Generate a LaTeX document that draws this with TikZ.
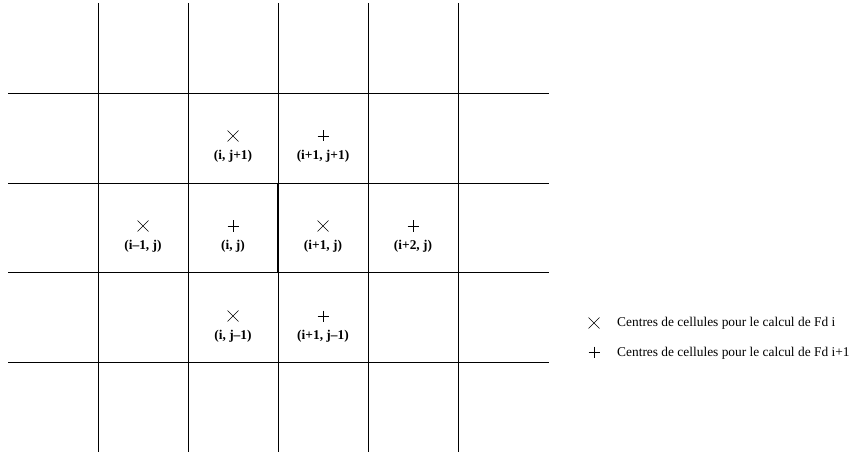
\documentclass[tikz,border=0pt]{standalone}
\usepackage{fontspec}
\setmainfont{Liberation Serif}
\begin{document}
\begin{tikzpicture}[x=1pt,y=-1pt,
  grid/.style={line width=0.9pt,black},
  lbl/.style={font=\fontsize{13.4}{14}\selectfont\bfseries,inner sep=0pt},
  legtxt/.style={font=\fontsize{13.4}{14}\selectfont,inner sep=0pt,anchor=west},
  mk/.style={line width=0.6pt}]
\useasboundingbox (0,0) rectangle (850,454);
% grid
\foreach \x in {98,188,278,368,458} \draw[grid] (\x,3) -- (\x,452);
\foreach \y in {93,183,272,362} \draw[grid] (8,\y) -- (549,\y);
\draw[line width=2.2pt] (278,183) -- (278,272);
% markers
\newcommand{\crossmk}[2]{\draw[mk] (#1-5.5,#2-5.5) -- (#1+5.5,#2+5.5) (#1-5.5,#2+5.5) -- (#1+5.5,#2-5.5);}
\newcommand{\plusmk}[2]{\draw[mk] (#1-5.5,#2) -- (#1+5.5,#2) (#1,#2-5.5) -- (#1,#2+5.5);}
\crossmk{233}{136}
\plusmk{323}{136}
\crossmk{143}{226}
\plusmk{233}{226}
\crossmk{323}{226}
\plusmk{413}{226}
\crossmk{233}{316}
\plusmk{323}{316}
% labels
\node[lbl] (l1) at (233,156) {(i, j+1)};
\node[lbl] (l2) at (323,156) {(i+1, j+1)};
\node[lbl] (l3) at (143,246) {(i–1, j)};
\node[lbl] (l4) at (233,246) {(i, j)};
\node[lbl] (l5) at (323,246) {(i+1, j)};
\node[lbl] (l6) at (413,246) {(i+2, j)};
\node[lbl] (l7) at (233,336) {(i, j–1)};
\node[lbl] (l8) at (323,336) {(i+1, j–1)};
% legend
\crossmk{594}{323}
\plusmk{594}{352}
\node[legtxt] (t1) at (617,323) {Centres de cellules pour le calcul de Fd i};
\node[legtxt] (t2) at (617,353) {Centres de cellules pour le calcul de Fd i+1};
\end{tikzpicture}
\end{document}
